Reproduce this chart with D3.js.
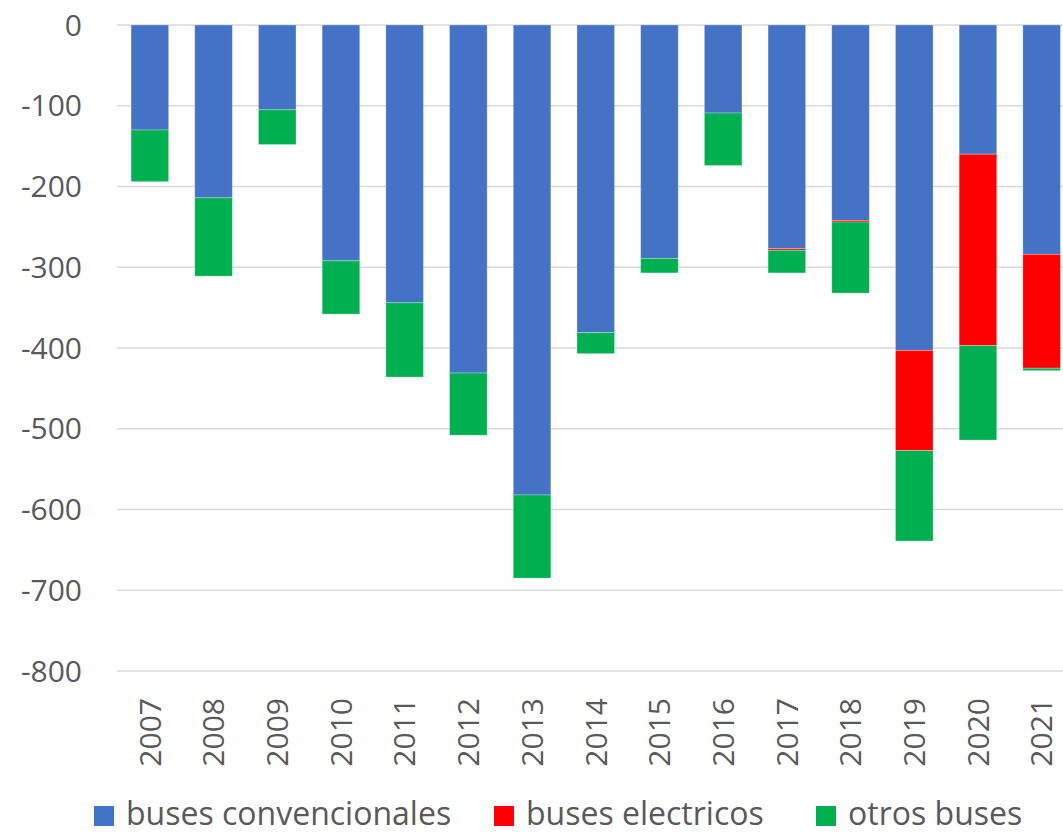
<!DOCTYPE html>
<html>
<head>
<meta charset="utf-8">
<script src="https://cdn.jsdelivr.net/npm/d3@7"></script>
<style>
  html, body { margin: 0; padding: 0; background: #fff; }
  svg { display: block; font-family: "Open Sans", sans-serif; }
</style>
</head>
<body>
<svg id="chart" width="1063" height="834"></svg>
<script>
const years = ["2007","2008","2009","2010","2011","2012","2013","2014","2015","2016","2017","2018","2019","2020","2021"];
const convencionales = [-130,-214,-105,-292,-344,-431,-582,-381,-289,-109,-277,-242,-403,-160,-284];
const electricos     = [0,0,0,0,0,0,0,0,0,0,-2,-2,-124,-237,-141];
const otros          = [-64,-97,-43,-66,-92,-77,-103,-26,-18,-65,-28,-88,-112,-117,-3];
const seriesNames = ["buses convencionales","buses electricos","otros buses"];
const seriesColors = ["#4472C4","#FF0000","#00B050"];
const yTicks = [0,-100,-200,-300,-400,-500,-600,-700,-800];

const svg = d3.select("#chart");
const W = 1063;

const x = d3.scaleBand().domain(years).range([118, 1073.5]).paddingInner(0.41).paddingOuter(0.205);
const y = d3.scaleLinear().domain([0, -800]).range([25, 671]);

// gridlines
svg.append("g").selectAll("line").data(yTicks).join("line")
  .attr("x1", 117).attr("x2", W)
  .attr("y1", d => y(d)).attr("y2", d => y(d))
  .attr("stroke", "#D9D9D9").attr("stroke-width", 1.5);

// y axis labels
const yAxis = d3.axisLeft(y).tickValues(yTicks).tickSize(0).tickPadding(0).tickFormat(d => String(d));
const yg = svg.append("g").attr("transform", "translate(82,0)").call(yAxis);
yg.select(".domain").remove();
yg.selectAll("text").attr("font-size", 30).attr("fill", "#595959").attr("font-family", "'Open Sans', sans-serif").attr("dy", "0.34em");

// stacked data
const rows = years.map((yr, i) => ({ year: yr, s0: convencionales[i], s1: electricos[i], s2: otros[i] }));
const stack = d3.stack().keys(["s0","s1","s2"]).offset(d3.stackOffsetDiverging);
const stacked = stack(rows);

svg.append("g").selectAll("g").data(stacked).join("g")
  .attr("fill", (d, i) => seriesColors[i])
  .selectAll("rect").data(d => d).join("rect")
  .attr("x", d => x(d.data.year))
  .attr("width", x.bandwidth())
  .attr("y", d => y(d[1]))
  .attr("height", d => Math.max(0, y(d[0]) - y(d[1])))
  .attr("stroke", "rgba(255,255,255,0.35)")
  .attr("stroke-width", 0.8);

// x axis labels (rotated)
const xAxis = d3.axisBottom(x).tickSize(0).tickPadding(0);
const xg = svg.append("g").attr("transform", "translate(0,698)").call(xAxis);
xg.select(".domain").remove();
xg.selectAll("text")
  .attr("font-size", 30).attr("fill", "#595959").attr("font-family", "'Open Sans', sans-serif")
  .attr("transform", "rotate(-90)")
  .attr("text-anchor", "end")
  .attr("x", 0).attr("y", 0).attr("dy", "0.36em");

// legend
const legendX = [94, 494, 816];
const lg = svg.append("g");
seriesNames.forEach((name, i) => {
  lg.append("rect").attr("x", legendX[i]).attr("y", 806).attr("width", 20).attr("height", 20)
    .attr("fill", seriesColors[i]);
  lg.append("text").attr("x", legendX[i] + 32).attr("y", 825)
    .attr("font-size", 32).attr("fill", "#595959").text(name);
});
</script>
</body>
</html>
